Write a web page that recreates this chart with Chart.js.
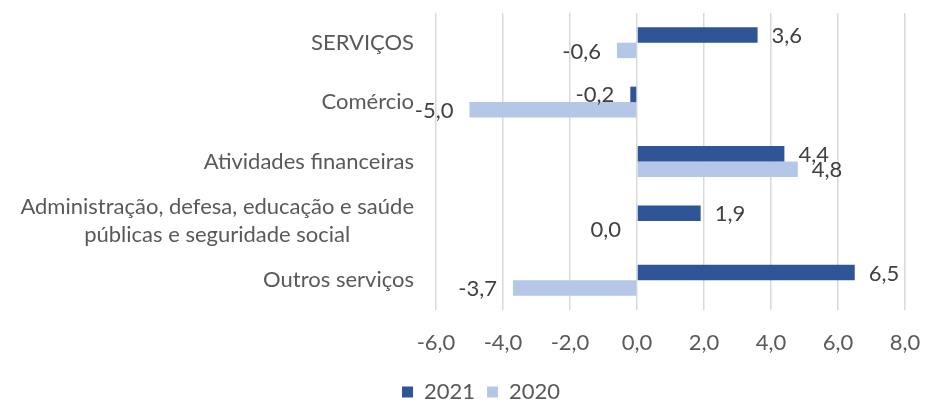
<!DOCTYPE html>
<html><head><meta charset="utf-8">
<script src="https://cdn.jsdelivr.net/npm/chart.js@4/dist/chart.umd.min.js"></script>
<style>html,body{margin:0;padding:0;background:#fff;}#wrap{width:928px;height:403px;}</style>
</head><body><div id="wrap"><canvas id="c" width="928" height="403"></canvas></div>
<script>
const categories = [
  'SERVIÇOS',
  'Comércio',
  'Atividades financeiras',
  ['Administração, defesa, educação e saúde', 'públicas e seguridade social'],
  'Outros serviços'
];
const values2021 = [3.6, -0.2, 4.4, 1.9, 6.5];
const values2020 = [-0.6, -5.0, 4.8, 0.0, -3.7];
const seriesNames = ['2021', '2020'];
const xTicks = [-6, -4, -2, 0, 2, 4, 6, 8];

const FONT = 'Lato';
const FS = 22;
const fmt = v => v.toFixed(1).replace('.', ',');

const yLabelPlugin = {
  id: 'yLabels',
  afterDraw(chart) {
    const ctx = chart.ctx, sc = chart.scales.y;
    ctx.save();
    ctx.font = FS + 'px ' + FONT;
    ctx.fillStyle = '#595959';
    ctx.textBaseline = 'middle';
    const rightX = 414, lh = 28;
    categories.forEach((lab, i) => {
      const lines = Array.isArray(lab) ? lab : [lab];
      const y0 = sc.getPixelForValue(i) - (lines.length - 1) * lh / 2;
      const w = Math.max(...lines.map(l => ctx.measureText(l).width));
      const cx = rightX - w / 2;
      ctx.textAlign = 'center';
      lines.forEach((l, k) => ctx.fillText(l, cx, y0 + k * lh));
    });
    ctx.restore();
  }
};

const dataLabelPlugin = {
  id: 'dataLabels',
  afterDatasetsDraw(chart) {
    const ctx = chart.ctx;
    ctx.save();
    ctx.font = FS + 'px ' + FONT;
    ctx.fillStyle = '#404040';
    ctx.textBaseline = 'middle';
    chart.data.datasets.forEach((ds, di) => {
      const meta = chart.getDatasetMeta(di);
      meta.data.forEach((el, i) => {
        const v = ds.data[i];
        if (v > 0) { ctx.textAlign = 'left'; ctx.fillText(fmt(v), el.x + 14, el.y + 1); }
        else { ctx.textAlign = 'right'; ctx.fillText(fmt(v), el.x - 16, el.y + 1); }
      });
    });
    ctx.restore();
  }
};

const legendShift = {
  id: 'legendShift',
  afterLayout(chart) {
    const lg = chart.legend;
    const w = lg.right - lg.left;
    lg.left = 402 - 12; lg.right = lg.left + w;
    lg.top += 10; lg.bottom += 10;
  }
};

new Chart(document.getElementById('c'), {
  type: 'bar',
  data: {
    labels: categories,
    datasets: [
      { label: seriesNames[0], data: values2021, backgroundColor: '#2F5597', borderWidth: 0 },
      { label: seriesNames[1], data: values2020, backgroundColor: '#B4C7E7', borderWidth: 0 }
    ]
  },
  options: {
    indexAxis: 'y',
    responsive: false,
    animation: false,
    devicePixelRatio: 1,
    layout: { padding: { left: 0, right: 23, top: 13, bottom: 0 } },
    datasets: { bar: { categoryPercentage: 0.52, barPercentage: 1.0 } },
    plugins: {
      legend: {
        position: 'bottom',
        align: 'start',
        labels: { boxWidth: 11, boxHeight: 11, padding: 12, color: '#595959', font: { family: FONT, size: FS } }
      },
      tooltip: { enabled: false }
    },
    scales: {
      x: {
        min: -6, max: 8,
        afterBuildTicks(scale) { scale.ticks = xTicks.map(v => ({ value: v })); },
        afterFit(scale) { scale.height = 49; scale.paddingLeft = 0; scale.paddingRight = 0; },
        ticks: { padding: 20, color: '#595959', font: { family: FONT, size: FS }, callback: v => fmt(v) },
        grid: { color: '#d9d9d9', lineWidth: 1.5, drawTicks: false },
        border: { display: false }
      },
      y: {
        ticks: { display: false },
        grid: { display: false },
        border: { display: false },
        afterFit(scale) { scale.width = 436; }
      }
    }
  },
  plugins: [yLabelPlugin, dataLabelPlugin, legendShift]
});
</script>
</body></html>
